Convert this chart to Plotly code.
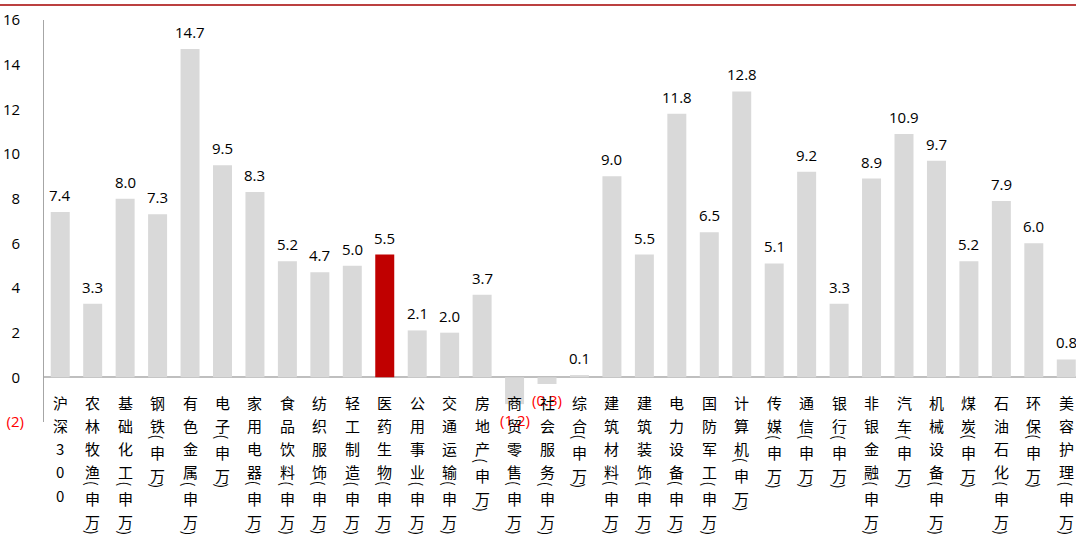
import plotly.graph_objects as go

categories = ["沪深300", "农林牧渔(申万)", "基础化工(申万)", "钢铁(申万)", "有色金属(申万)",
              "电子(申万)", "家用电器(申万)", "食品饮料(申万)", "纺织服饰(申万)", "轻工制造(申万)",
              "医药生物(申万)", "公用事业(申万)", "交通运输(申万)", "房地产(申万)", "商贸零售(申万)",
              "社会服务(申万)", "综合(申万)", "建筑材料(申万)", "建筑装饰(申万)", "电力设备(申万)",
              "国防军工(申万)", "计算机(申万)", "传媒(申万)", "通信(申万)", "银行(申万)",
              "非银金融(申万)", "汽车(申万)", "机械设备(申万)", "煤炭(申万)", "石油石化(申万)",
              "环保(申万)", "美容护理(申万)"]
values = [7.4, 3.3, 8.0, 7.3, 14.7, 9.5, 8.3, 5.2, 4.7, 5.0, 5.5, 2.1, 2.0, 3.7, -1.2, -0.3,
          0.1, 9.0, 5.5, 11.8, 6.5, 12.8, 5.1, 9.2, 3.3, 8.9, 10.9, 9.7, 5.2, 7.9, 6.0, 0.8]
highlight = "医药生物(申万)"
ytick_vals = [-2, 0, 2, 4, 6, 8, 10, 12, 14, 16]

GRAY = "#d9d9d9"
RED = "#c00000"
NEG = "#ff0000"
FONT = "Segoe UI, Open Sans, Noto Sans CJK SC, sans-serif"
CJK = "Noto Sans CJK SC, Microsoft YaHei, sans-serif"


def fmt(v):
    return f"{v:.1f}" if v >= 0 else f"({abs(v):.1f})"


def fmt_tick(v):
    if v < 0:
        return f'<span style="color:{NEG}">({abs(v)})</span>'
    return f"{v}\u00a0"


bar_colors = [RED if c == highlight else GRAY for c in categories]

fig = go.Figure(go.Bar(
    x=categories, y=values,
    marker=dict(color=bar_colors, line=dict(width=0)),
    hoverinfo="x+y",
))

annotations = []
# value labels
for c, v in zip(categories, values):
    annotations.append(dict(x=c, y=v, xref="x", yref="y", text=fmt(v), showarrow=False,
                            yanchor="middle", yshift=17 if v >= 0 else -16,
                            font=dict(size=15, family=FONT, color="#000000" if v >= 0 else NEG)))

# vertical category labels (one character per line)
for c in categories:
    cursor = 24.7
    last = cursor
    for ch in c:
        if ch == "(":
            annotations.append(dict(x=c, y=0, xref="x", yref="y", text="(", textangle=90,
                                    showarrow=False, yshift=-(last + 11.5), yanchor="middle",
                                    font=dict(size=15, color="#000000", family=CJK)))
            cursor += 3.4
        elif ch == ")":
            annotations.append(dict(x=c, y=0, xref="x", yref="y", text=")", textangle=90,
                                    showarrow=False, yshift=-(last + 10.5), yanchor="middle",
                                    font=dict(size=15, color="#000000", family=CJK)))
        else:
            annotations.append(dict(x=c, y=0, xref="x", yref="y", text=ch,
                                    showarrow=False, yshift=-cursor, yanchor="middle",
                                    font=dict(size=15, color="#000000", family=CJK)))
            last = cursor
            cursor += 23.3

fig.update_layout(
    width=1076, height=534,
    margin=dict(l=44, r=0, t=20, b=112, pad=0),
    paper_bgcolor="white", plot_bgcolor="white",
    bargap=0.415,
    showlegend=False,
    font=dict(family=FONT, size=15, color="#000000"),
    annotations=annotations,
    shapes=[dict(type="line", xref="paper", yref="paper", x0=-44 / 1032, x1=1,
                 y0=(534 - 112 - 5) / 402, y1=(534 - 112 - 5) / 402,
                 line=dict(color="#a50000", width=1.5))],
)
fig.update_xaxes(type="category", range=[-0.5, 31.3], showticklabels=False,
                 showline=False, showgrid=False, zeroline=False, ticks="")
fig.update_yaxes(range=[-2, 16], tickvals=ytick_vals, ticktext=[fmt_tick(v) for v in ytick_vals],
                 showgrid=False, showline=True, linecolor="#a6a6a6", linewidth=1,
                 zeroline=True, zerolinecolor="#bfbfbf", zerolinewidth=2,
                 ticks="", ticklabelstandoff=16, tickfont=dict(size=15, family=FONT, color="#000000"))

fig.write_html("out.html")
